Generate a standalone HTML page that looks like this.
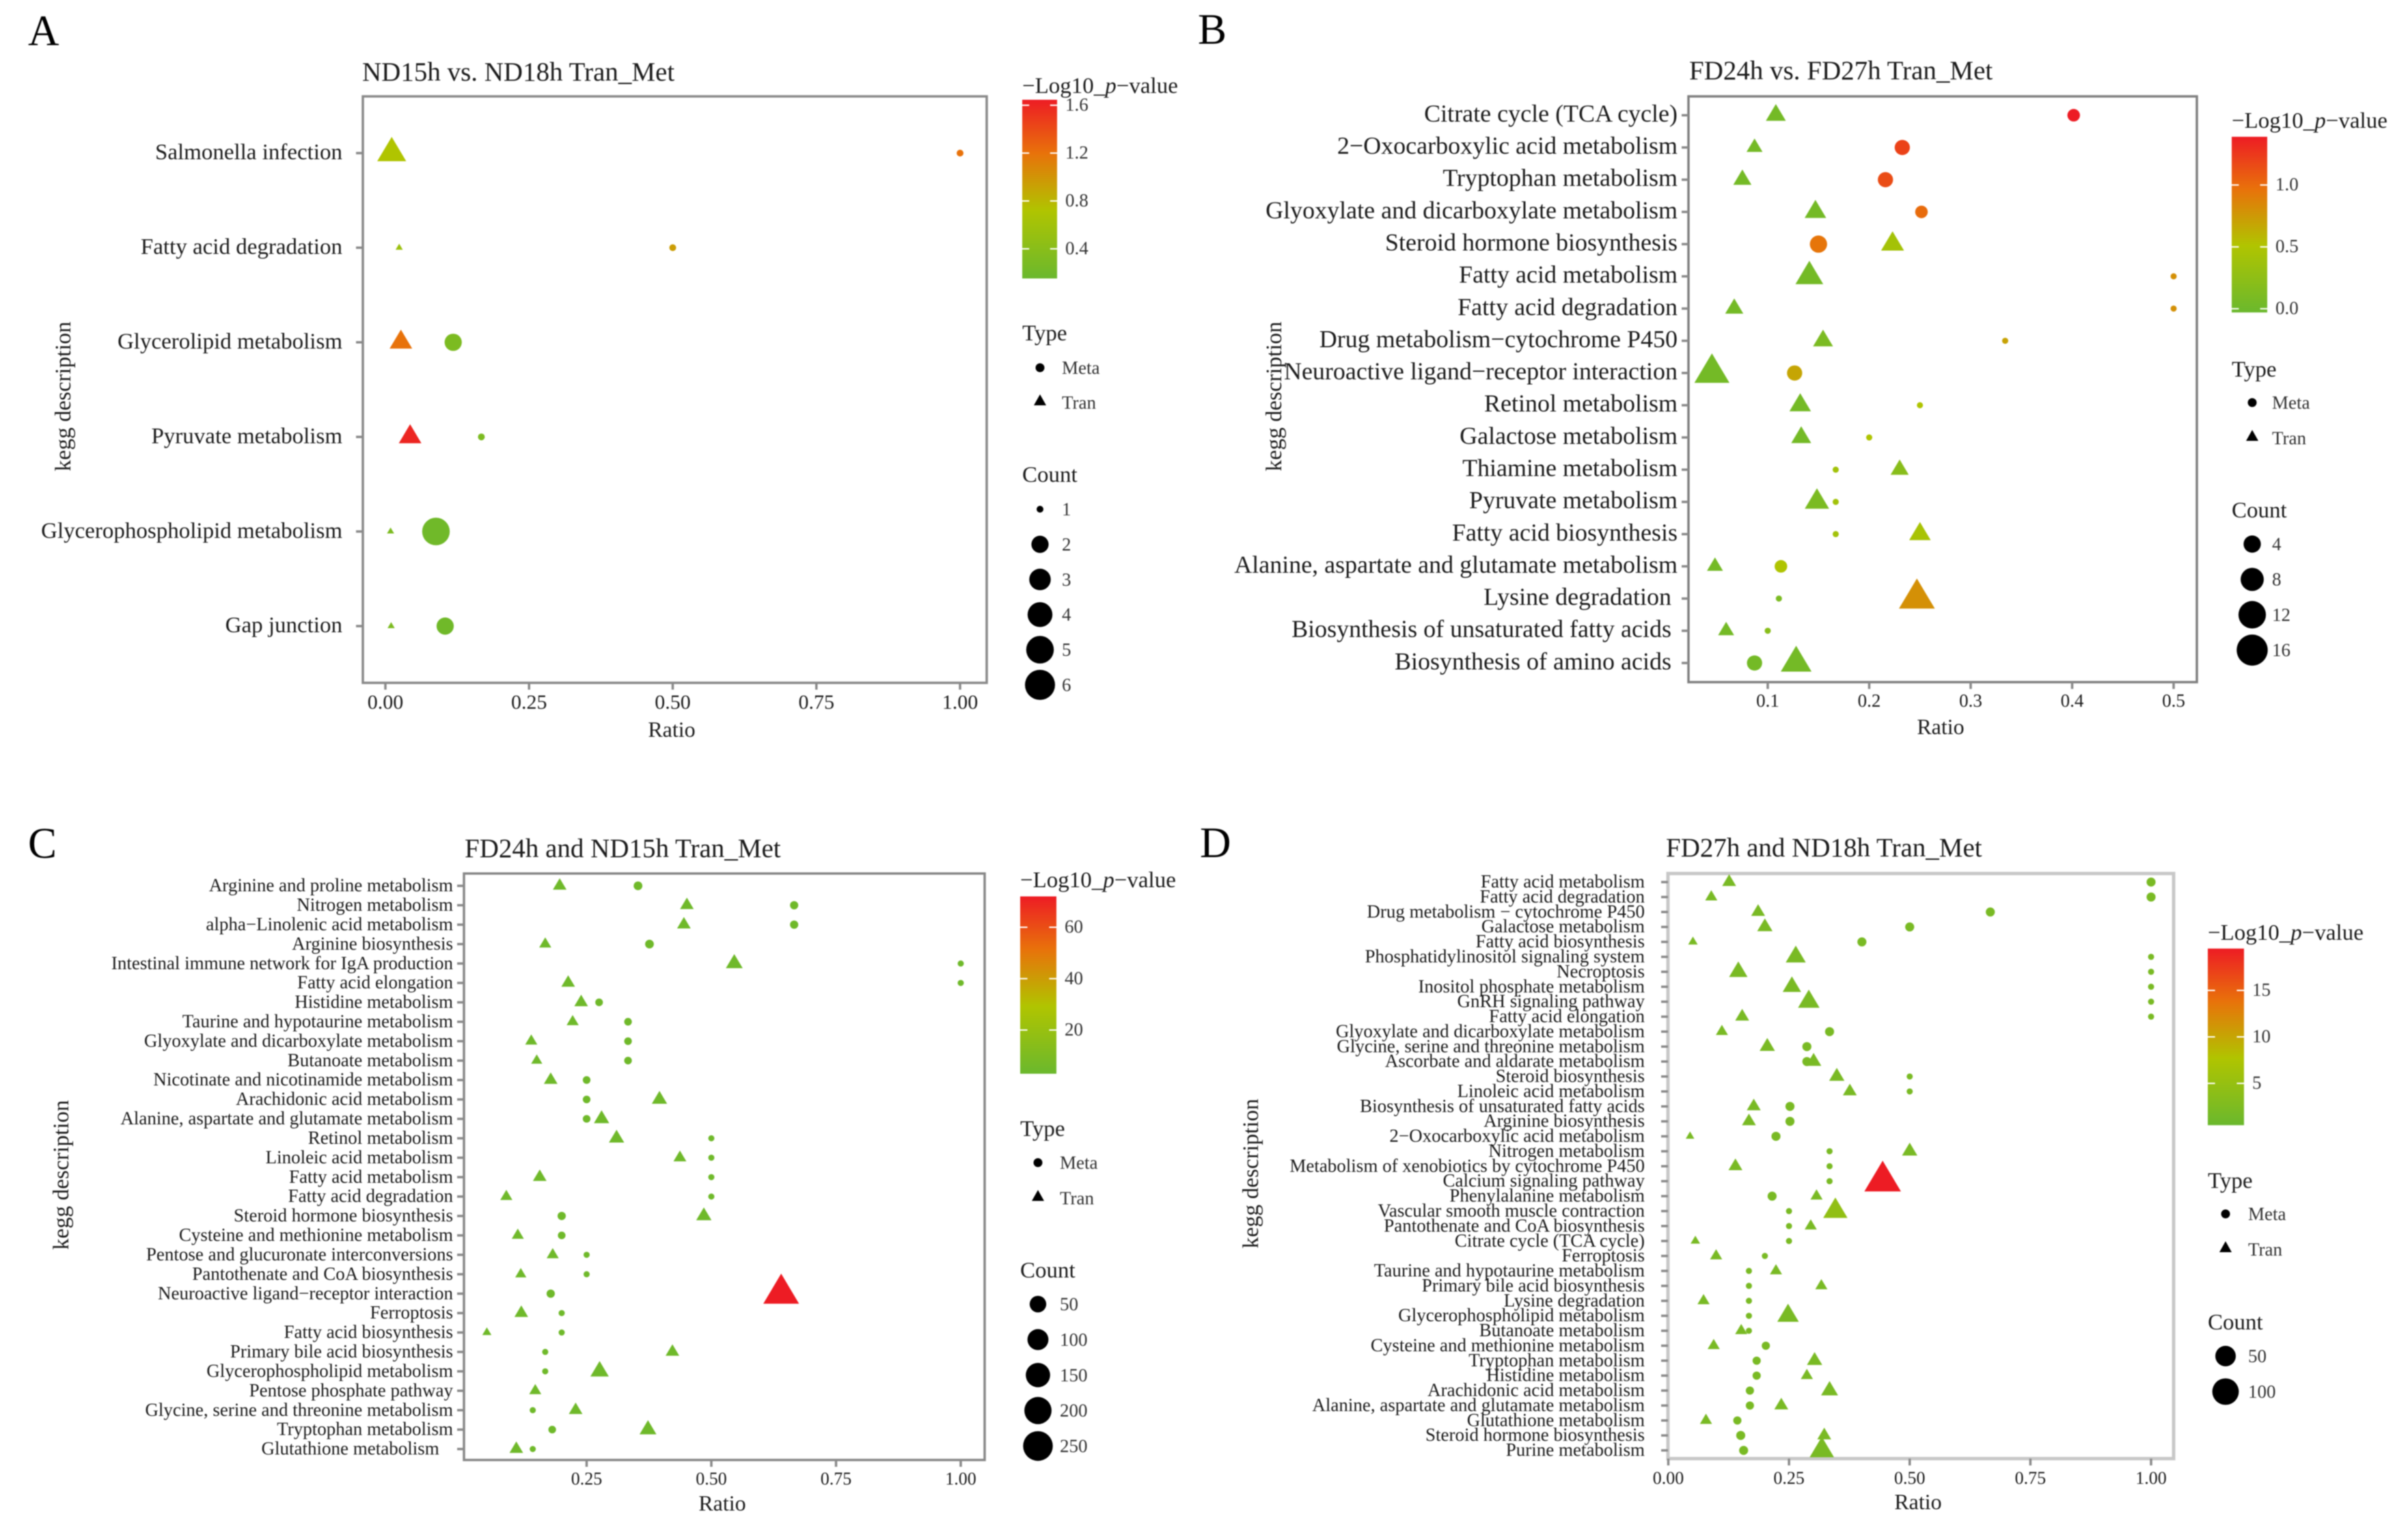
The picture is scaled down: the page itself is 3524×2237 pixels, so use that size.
<!DOCTYPE html>
<html lang="en">
<head>
<meta charset="utf-8">
<title>KEGG enrichment bubble charts</title>
<style>
html,body{margin:0;padding:0;background:#fff;width:3524px;height:2237px;overflow:hidden}
svg{display:block;filter:blur(0.9px)}
text{font-family:"Liberation Serif","Times New Roman",serif;fill:#1c1c1c;white-space:pre}
.letter{font-size:63px;fill:#000}
.title{font-size:39px}
.axt{font-size:32px}
.lgt{font-size:33px}
.lgi{font-size:27px;fill:#333}
</style>
</head>
<body>
<svg id="figure" xmlns="http://www.w3.org/2000/svg" width="3524" height="2237" viewBox="0 0 3524 2237">
<defs>
<linearGradient id="heat" x1="0" y1="1" x2="0" y2="0">
<stop offset="0" stop-color="#6ab82d"/>
<stop offset="0.38" stop-color="#b0c400"/>
<stop offset="0.70" stop-color="#e8720a"/>
<stop offset="1" stop-color="#ed1c24"/>
</linearGradient>
</defs>
<rect width="3524" height="2237" fill="#fff"/>

<g id="panel-a">
<text class="letter" x="41" y="66">A</text>
<text class="title" x="530" y="118">ND15h vs. ND18h Tran_Met</text>
<text class="axt" x="983" y="1078" text-anchor="middle">Ratio</text>
<text class="axt" x="103" y="580" text-anchor="middle" transform="rotate(-90 103 580)" style="font-size:33px">kegg description</text>
<text class="lgt" x="1496" y="136">−Log10_<tspan font-style="italic">p</tspan>−value</text>
<text class="lgt" x="1496" y="498">Type</text>
<circle cx="1522" cy="538" r="6.5" fill="#000"/>
<text class="lgi" x="1554" y="547">Meta</text>
<polygon points="1522,577 1531,593 1513,593" fill="#000"/>
<text class="lgi" x="1554" y="598">Tran</text>
<text class="lgt" x="1496" y="705">Count</text>
</g>

<g id="panel-b">
<text class="letter" x="1753" y="64">B</text>
<text class="title" x="2472" y="116">FD24h vs. FD27h Tran_Met</text>
<text class="axt" x="2840" y="1074" text-anchor="middle">Ratio</text>
<text class="axt" x="1875" y="580" text-anchor="middle" transform="rotate(-90 1875 580)" style="font-size:33px">kegg description</text>
<text class="lgt" x="3266" y="187">−Log10_<tspan font-style="italic">p</tspan>−value</text>
<text class="lgt" x="3266" y="551">Type</text>
<circle cx="3296" cy="589" r="6.5" fill="#000"/>
<text class="lgi" x="3325" y="598">Meta</text>
<polygon points="3296,629 3305,645 3287,645" fill="#000"/>
<text class="lgi" x="3325" y="650">Tran</text>
<text class="lgt" x="3266" y="757">Count</text>
</g>

<g id="panel-c">
<text class="letter" x="41" y="1255">C</text>
<text class="title" x="680" y="1254">FD24h and ND15h Tran_Met</text>
<text class="axt" x="1057" y="2210" text-anchor="middle">Ratio</text>
<text class="axt" x="100" y="1719" text-anchor="middle" transform="rotate(-90 100 1719)" style="font-size:33px">kegg description</text>
<text class="lgt" x="1493" y="1298">−Log10_<tspan font-style="italic">p</tspan>−value</text>
<text class="lgt" x="1493" y="1662">Type</text>
<circle cx="1519" cy="1701" r="6.5" fill="#000"/>
<text class="lgi" x="1551" y="1710">Meta</text>
<polygon points="1519,1741 1528,1757 1510,1757" fill="#000"/>
<text class="lgi" x="1551" y="1762">Tran</text>
<text class="lgt" x="1493" y="1869">Count</text>
</g>

<g id="panel-d">
<text class="letter" x="1756" y="1254">D</text>
<text class="title" x="2438" y="1253">FD27h and ND18h Tran_Met</text>
<text class="axt" x="2807" y="2208" text-anchor="middle">Ratio</text>
<text class="axt" x="1841" y="1717" text-anchor="middle" transform="rotate(-90 1841 1717)" style="font-size:33px">kegg description</text>
<text class="lgt" x="3231" y="1375">−Log10_<tspan font-style="italic">p</tspan>−value</text>
<text class="lgt" x="3231" y="1738">Type</text>
<circle cx="3257" cy="1776" r="6.5" fill="#000"/>
<text class="lgi" x="3290" y="1785">Meta</text>
<polygon points="3257,1816 3266,1832 3248,1832" fill="#000"/>
<text class="lgi" x="3290" y="1837">Tran</text>
<text class="lgt" x="3231" y="1945">Count</text>
</g>
</svg>

<script>
/* ---------- Panel A data ---------- */
const aCategories = ["Salmonella infection","Fatty acid degradation","Glycerolipid metabolism","Pyruvate metabolism","Glycerophospholipid metabolism","Gap junction"];
const aTranRatio = [0.011,0.024,0.027,0.043,0.009,0.010];
const aTranCount = [5,1,3,3,1,1];
const aTranLogP = [0.72,0.55,1.2,1.6,0.3,0.3];
const aMetaRatio = [1.0,0.5,0.118,0.167,0.088,0.104];
const aMetaCount = [1,1,2,1,5,2];
const aMetaLogP = [1.2,0.95,0.3,0.3,0.2,0.2];
const aXTicks = [0,0.25,0.5,0.75,1];
const aXTickLabels = ["0.00","0.25","0.50","0.75","1.00"];
const aColorTicks = [1.6,1.2,0.8,0.4];
const aColorTickLabels = ["1.6","1.2","0.8","0.4"];
const aCountLegend = [1,2,3,4,5,6];

/* ---------- Panel B data ---------- */
const bCategories = ["Citrate cycle (TCA cycle)","2−Oxocarboxylic acid metabolism","Tryptophan metabolism","Glyoxylate and dicarboxylate metabolism","Steroid hormone biosynthesis","Fatty acid metabolism","Fatty acid degradation","Drug metabolism−cytochrome P450","Neuroactive ligand−receptor interaction","Retinol metabolism","Galactose metabolism","Thiamine metabolism","Pyruvate metabolism","Fatty acid biosynthesis","Alanine, aspartate and glutamate metabolism","Lysine degradation ","Biosynthesis of unsaturated fatty acids ","Biosynthesis of amino acids "];
const bTranRatio = [0.108,0.087,0.075,0.147,0.223,0.141,0.067,0.1545,0.045,0.132,0.133,0.23,0.1485,0.25,0.048,0.247,0.059,0.128];
const bTranCount = [5,3,4,6,7,11,4,5,19,6,5,4,8,6,3,20,3,14];
const bTranLogP = [0.05,0.05,0.05,0.05,0.42,0.05,0.05,0.1,0.05,0.05,0.05,0.2,0.1,0.45,0.05,0.8,0.05,0.05];
const bMetaRatio = [0.4015,0.2326,0.216,0.2515,0.15,0.5,0.5,0.334,0.1265,0.25,0.2,0.167,0.167,0.167,0.113,0.111,0.1,0.087];
const bMetaCount = [2,3,3,2,4,1,1,1,3,1,1,1,1,1,2,1,1,3];
const bMetaLogP = [1.39,1.2,1.15,1.0,0.95,0.8,0.8,0.7,0.68,0.5,0.5,0.4,0.4,0.4,0.5,0.1,0.2,0.05];
const bXTicks = [0.1,0.2,0.3,0.4,0.5];
const bXTickLabels = ["0.1","0.2","0.3","0.4","0.5"];
const bColorTicks = [1.0,0.5,0.0];
const bColorTickLabels = ["1.0","0.5","0.0"];
const bCountLegend = [4,8,12,16];

/* ---------- Panel C data ---------- */
const cCategories = ["Arginine and proline metabolism","Nitrogen metabolism","alpha−Linolenic acid metabolism","Arginine biosynthesis","Intestinal immune network for IgA production","Fatty acid elongation","Histidine metabolism","Taurine and hypotaurine metabolism","Glyoxylate and dicarboxylate metabolism","Butanoate metabolism","Nicotinate and nicotinamide metabolism","Arachidonic acid metabolism","Alanine, aspartate and glutamate metabolism","Retinol metabolism","Linoleic acid metabolism","Fatty acid metabolism","Fatty acid degradation","Steroid hormone biosynthesis","Cysteine and methionine metabolism","Pentose and glucuronate interconversions","Pantothenate and CoA biosynthesis","Neuroactive ligand−receptor interaction","Ferroptosis","Fatty acid biosynthesis","Primary bile acid biosynthesis","Glycerophospholipid metabolism","Pentose phosphate pathway","Glycine, serine and threonine metabolism","Tryptophan metabolism","Glutathione metabolism   "];
const cTranRatio = [0.196,0.451,0.445,0.167,0.546,0.213,0.239,0.222,0.139,0.15,0.178,0.396,0.28,0.31,0.437,0.156,0.089,0.485,0.112,0.182,0.118,0.64,0.119,0.05,0.422,0.276,0.147,0.228,0.373,0.109];
const cTranCount = [22,22,22,14,45,22,22,14,14,10,22,33,33,33,18,22,14,33,14,14,10,350,22,4,22,59,14,22,45,22];
const cTranLogP = [5,5,5,5,5,5,5,5,5,5,5,5,5,5,5,5,5,5,5,5,5,72,5,5,5,5,5,5,5,5];
const cMetaRatio = [0.353,0.666,0.666,0.376,1.0,1.0,0.275,0.333,0.333,0.333,0.25,0.25,0.25,0.5,0.5,0.5,0.5,0.2,0.2,0.25,0.25,0.178,0.2,0.2,0.167,0.167,null,0.142,0.181,0.142];
const cMetaCount = [4,3,3,4,1,1,2,2,2,2,2,2,2,1,1,1,1,3,2,1,1,3,1,1,1,1,null,1,2,1];
const cMetaLogP = [5,5,5,5,5,5,5,5,5,5,5,5,5,5,5,5,5,5,5,5,5,5,5,5,5,5,null,5,5,5];
const cXTicks = [0.25,0.5,0.75,1];
const cXTickLabels = ["0.25","0.50","0.75","1.00"];
const cColorTicks = [60,40,20];
const cColorTickLabels = ["60","40","20"];
const cCountLegend = [50,100,150,200,250];

/* ---------- Panel D data ---------- */
const dCategories = ["Fatty acid metabolism","Fatty acid degradation","Drug metabolism − cytochrome P450","Galactose metabolism","Fatty acid biosynthesis","Phosphatidylinositol signaling system","Necroptosis","Inositol phosphate metabolism","GnRH signaling pathway","Fatty acid elongation","Glyoxylate and dicarboxylate metabolism","Glycine, serine and threonine metabolism","Ascorbate and aldarate metabolism","Steroid biosynthesis","Linoleic acid metabolism","Biosynthesis of unsaturated fatty acids","Arginine biosynthesis","2−Oxocarboxylic acid metabolism","Nitrogen metabolism","Metabolism of xenobiotics by cytochrome P450","Calcium signaling pathway","Phenylalanine metabolism","Vascular smooth muscle contraction","Pantothenate and CoA biosynthesis","Citrate cycle (TCA cycle)","Ferroptosis","Taurine and hypotaurine metabolism","Primary bile acid biosynthesis","Lysine degradation","Glycerophospholipid metabolism","Butanoate metabolism","Cysteine and methionine metabolism","Tryptophan metabolism","Histidine metabolism","Arachidonic acid metabolism","Alanine, aspartate and glutamate metabolism","Glutathione metabolism","Steroid hormone biosynthesis","Purine metabolism"];
const dTranRatio = [0.126,0.089,0.186,0.2,0.051,0.264,0.145,0.256,0.291,0.153,0.111,0.205,0.301,0.349,0.376,0.177,0.167,0.045,0.5,0.139,0.444,0.307,0.346,0.295,0.056,0.099,0.223,0.317,0.073,0.248,0.151,0.094,0.303,0.287,0.334,0.234,0.078,0.323,0.318];
const dTranCount = [13,8,13,18,3,41,32,32,50,13,8,18,18,18,13,13,13,2,18,13,197,8,70,8,3,8,8,8,8,50,8,8,18,8,25,13,8,13,70];
const dTranLogP = [2,2,2,2,2,2,2,2,2,2,2,2,2,2,2,2,2,2,2,2,19.5,2,4.5,2,2,2,2,2,2,2,2,2,2,2,2,2,2,2,2];
const dMetaRatio = [1,1,0.667,0.5,0.401,1,1,1,1,1,0.334,0.287,0.287,0.5,0.5,0.252,0.252,0.223,0.334,0.334,0.334,0.215,0.25,0.25,0.25,0.2,0.167,0.167,0.167,0.167,0.167,0.202,0.183,0.183,0.169,0.169,0.143,0.15,0.156];
const dMetaCount = [3,3,3,3,3,1,1,1,1,1,3,3,3,1,1,3,3,3,1,1,1,3,1,1,1,1,1,1,1,1,1,2,2,2,2,2,2,3,3];
const dMetaLogP = [2,2,2,2,2,2,2,2,2,2,2,2,2,2,2,2,2,2,2,2,2,2,2,2,2,2,2,2,2,2,2,2,2,2,2,2,2,2,2];
const dXTicks = [0,0.25,0.5,0.75,1];
const dXTickLabels = ["0.00","0.25","0.50","0.75","1.00"];
const dColorTicks = [15,10,5];
const dColorTickLabels = ["15","10","5"];
const dCountLegend = [50,100];

/* ---------- helpers ---------- */
const NS = "http://www.w3.org/2000/svg";
function mk(parent, tag, attrs) {
  const el = document.createElementNS(NS, tag);
  for (const k in attrs) el.setAttribute(k, attrs[k]);
  parent.appendChild(el);
  return el;
}
const HEAT_COLORS = [[106,184,45],[176,196,0],[232,114,10],[237,28,36]];
const HEAT_STOPS = [0,0.38,0.70,1];
function heatColor(v, lo, hi) {
  const t = Math.max(0, Math.min(1, (v - lo) / (hi - lo)));
  let i = 0;
  while (i < 2 && t > HEAT_STOPS[i + 1]) i++;
  const f = (t - HEAT_STOPS[i]) / (HEAT_STOPS[i + 1] - HEAT_STOPS[i]);
  const c = HEAT_COLORS[i].map((a, j) => Math.round(a + (HEAT_COLORS[i + 1][j] - a) * f));
  return "rgb(" + c.join(",") + ")";
}

function drawPanel(p) {
  const g = document.getElementById(p.id);
  const x = v => p.xRefPx + (v - p.xRef) * p.xPerUnit;
  const n = p.categories.length;
  const y = i => n > 1 ? p.yFirst + (p.yLast - p.yFirst) * i / (n - 1) : p.yFirst;
  const diameter = c => p.dMin + (p.dMax - p.dMin) * Math.sqrt(Math.max(0, c - p.cMin) / (p.cMax - p.cMin));
  const colorY = v => p.cbRefPx - (v - p.cbRef) * p.cbPerUnit;
  const color = v => heatColor(v, p.cbLow, p.cbHigh);

  /* plot frame */
  const frame = mk(g, "rect", {x: p.box[0], y: p.box[2], width: p.box[1] - p.box[0], height: p.box[3] - p.box[2], fill: "#fff", stroke: p.frameColor, "stroke-width": p.frameWidth});
  
  

  /* y axis */
  p.categories.forEach((name, i) => {
    const tick = mk(g, "line", {x1: p.box[0] - 10, x2: p.box[0], y1: y(i), y2: y(i), stroke: "#8a8a8a", "stroke-width": 3.5});
    
    
    const label = mk(g, "text", {x: p.labelRight, y: y(i) + p.labelFont * p.labelShift, "text-anchor": "end", "font-size": p.labelFont});
    label.textContent = name;
    
    
  });

  /* x axis */
  p.xTicks.forEach((v, i) => {
    const tick = mk(g, "line", {x1: x(v), x2: x(v), y1: p.box[3], y2: p.box[3] + 10, stroke: "#8a8a8a", "stroke-width": 3.5});
    
    
    const label = mk(g, "text", {x: x(v), y: p.xLabelBase, "text-anchor": "middle", "font-size": p.xLabelFont, fill: "#333"});
    label.textContent = p.xTickLabels[i];
    
    
  });

  /* Tran triangles */
  p.tranRatio.forEach((r, i) => {
    if (r === null) return;
    const w = diameter(p.tranCount[i]) * 1.05, h = w * 0.84, cx = x(r), cy = y(i);
    const tri = mk(g, "polygon", {points: cx + "," + (cy - h * 2 / 3) + " " + (cx + w / 2) + "," + (cy + h / 3) + " " + (cx - w / 2) + "," + (cy + h / 3), fill: color(p.tranLogP[i])});
    
    
  });

  /* Meta circles */
  p.metaRatio.forEach((r, i) => {
    if (r === null) return;
    const dot = mk(g, "circle", {cx: x(r), cy: y(i), r: diameter(p.metaCount[i]) / 2, fill: color(p.metaLogP[i])});
    
    
  });

  /* colour bar */
  const bar = mk(g, "rect", {x: p.cbX, y: colorY(p.cbHigh), width: p.cbW, height: colorY(p.cbLow) - colorY(p.cbHigh), fill: "url(#heat)"});
  
  
  p.colorTicks.forEach((v, i) => {
    const yy = colorY(v);
    const t1 = mk(g, "line", {x1: p.cbX, x2: p.cbX + p.cbW / 5, y1: yy, y2: yy, stroke: "#fff", "stroke-width": 2});
    
    
    const t2 = mk(g, "line", {x1: p.cbX + p.cbW * 0.8, x2: p.cbX + p.cbW, y1: yy, y2: yy, stroke: "#fff", "stroke-width": 2});
    
    
    const label = mk(g, "text", {x: p.cbX + p.cbW + 12, y: yy + 8, class: "lgi"});
    label.textContent = p.colorTickLabels[i];
    
    
  });

  /* count legend */
  p.countLegend.forEach((c, i) => {
    const yy = p.countFirstY + i * p.countStep;
    const dot = mk(g, "circle", {cx: p.legendMarkerX, cy: yy, r: diameter(c) / 2, fill: "#000"});
    
    
    const label = mk(g, "text", {x: p.legendLabelX, y: yy + 9, class: "lgi"});
    label.textContent = String(c);
    
    
  });
}

drawPanel({
  id: "panel-a", categories: aCategories,
  tranRatio: aTranRatio, tranCount: aTranCount, tranLogP: aTranLogP,
  metaRatio: aMetaRatio, metaCount: aMetaCount, metaLogP: aMetaLogP,
  xTicks: aXTicks, xTickLabels: aXTickLabels, colorTicks: aColorTicks, colorTickLabels: aColorTickLabels, countLegend: aCountLegend,
  box: [531, 1444, 141, 999], frameColor: "#8a8a8a", frameWidth: 3.5,
  xRef: 1, xRefPx: 1405, xPerUnit: 841, yFirst: 224, yLast: 916,
  labelRight: 501, labelFont: 33, labelShift: 0.28, xLabelBase: 1037, xLabelFont: 30,
  cMin: 1, cMax: 6, dMin: 10, dMax: 44,
  cbX: 1496, cbW: 51, cbRef: 1.6, cbRefPx: 154, cbPerUnit: 175, cbLow: 0.152, cbHigh: 1.646,
  countFirstY: 745, countStep: 51.4, legendMarkerX: 1522, legendLabelX: 1554
});
drawPanel({
  id: "panel-b", categories: bCategories,
  tranRatio: bTranRatio, tranCount: bTranCount, tranLogP: bTranLogP,
  metaRatio: bMetaRatio, metaCount: bMetaCount, metaLogP: bMetaLogP,
  xTicks: bXTicks, xTickLabels: bXTickLabels, colorTicks: bColorTicks, colorTickLabels: bColorTickLabels, countLegend: bCountLegend,
  box: [2471, 3215, 141, 998], frameColor: "#808080", frameWidth: 3.5,
  xRef: 0.1, xRefPx: 2587, xPerUnit: 1485, yFirst: 168.6, yLast: 970,
  labelRight: 2455, labelFont: 36, labelShift: 0.26, xLabelBase: 1034, xLabelFont: 27,
  cMin: 1, cMax: 20, dMin: 9, dMax: 50,
  cbX: 3266, cbW: 52, cbRef: 1.0, cbRefPx: 270.7, cbPerUnit: 181, cbLow: -0.03, cbHigh: 1.39,
  countFirstY: 796, countStep: 51.7, legendMarkerX: 3296, legendLabelX: 3325
});
drawPanel({
  id: "panel-c", categories: cCategories,
  tranRatio: cTranRatio, tranCount: cTranCount, tranLogP: cTranLogP,
  metaRatio: cMetaRatio, metaCount: cMetaCount, metaLogP: cMetaLogP,
  xTicks: cXTicks, xTickLabels: cXTickLabels, colorTicks: cColorTicks, colorTickLabels: cColorTickLabels, countLegend: cCountLegend,
  box: [679, 1441, 1278, 2136], frameColor: "#888888", frameWidth: 3.5,
  xRef: 1, xRefPx: 1406, xPerUnit: 730, yFirst: 1296, yLast: 2120,
  labelRight: 663, labelFont: 27, labelShift: 0.3, xLabelBase: 2172, xLabelFont: 26,
  cMin: 1, cMax: 320, dMin: 9, dMax: 48,
  cbX: 1493, cbW: 53, cbRef: 60, cbRefPx: 1356.6, cbPerUnit: 3.76, cbLow: 3, cbHigh: 72,
  countFirstY: 1908, countStep: 51.9, legendMarkerX: 1519, legendLabelX: 1551
});
drawPanel({
  id: "panel-d", categories: dCategories,
  tranRatio: dTranRatio, tranCount: dTranCount, tranLogP: dTranLogP,
  metaRatio: dMetaRatio, metaCount: dMetaCount, metaLogP: dMetaLogP,
  xTicks: dXTicks, xTickLabels: dXTickLabels, colorTicks: dColorTicks, colorTickLabels: dColorTickLabels, countLegend: dCountLegend,
  box: [2441, 3181, 1278, 2134], frameColor: "#c8c8c8", frameWidth: 5,
  xRef: 1, xRefPx: 3148, xPerUnit: 706.5, yFirst: 1290.5, yLast: 2122,
  labelRight: 2407, labelFont: 27, labelShift: 0.3, xLabelBase: 2171, xLabelFont: 26,
  cMin: 1, cMax: 197, dMin: 9, dMax: 51,
  cbX: 3231, cbW: 53, cbRef: 15, cbRefPx: 1449, cbPerUnit: 13.6, cbLow: 0.5, cbHigh: 19.5,
  countFirstY: 1984, countStep: 52, legendMarkerX: 3257, legendLabelX: 3290
});
</script>
</body>
</html>
